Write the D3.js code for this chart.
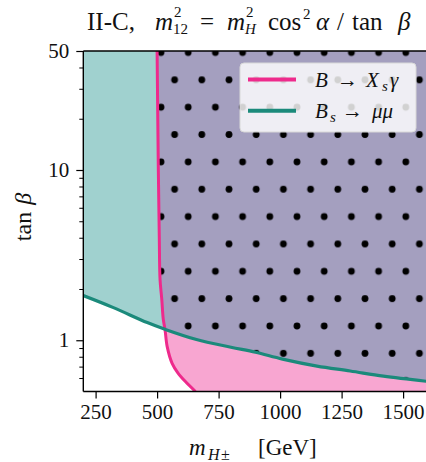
<!DOCTYPE html>
<html>
<head>
<meta charset="utf-8">
<script src="https://cdn.jsdelivr.net/npm/d3@7"></script>
<style>
  html, body { margin: 0; padding: 0; background: #fff; }
  svg { display: block; }
  text { font-family: "Liberation Serif", "DejaVu Serif", serif; fill: #111; }
  .it { font-style: italic; }
</style>
</head>
<body>
<svg id="chart" width="426" height="462"></svg>
<script>
// B -> X_s gamma exclusion boundary (m_H± in GeV, tan beta)
const bsgMass = [500, 505, 509, 512, 519, 525, 532, 541, 561, 585, 617, 656];
const bsgTanb = [50, 10, 3.9, 2.27, 1.74, 1.33, 1.16, 0.917, 0.732, 0.642, 0.568, 0.5];

// B_s -> mu mu exclusion boundary
const bsmumuMass = [200, 320, 460, 532, 660, 800, 900, 1010, 1150, 1285, 1420, 1600];
const bsmumuTanb = [1.83, 1.56, 1.27, 1.16, 1.01, 0.91, 0.85, 0.775, 0.705, 0.66, 0.615, 0.573];

// axis ranges and ticks
const massRange = [200, 1600];
const tanbRange = [0.5, 50];
const xTicks = [250, 500, 750, 1000, 1250, 1500];
const yMajorTicks = [1, 10, 50];
const yMinorTicks = [0.6, 0.7, 0.8, 0.9, 2, 3, 4, 5, 6, 7, 8, 9, 20, 30, 40];

const svg = d3.select("#chart");
const plot = { left: 83.3, top: 51, right: 427.7, bottom: 391.5 };

const x = d3.scaleLinear().domain(massRange).range([plot.left, plot.right]);
const y = d3.scaleLog().domain(tanbRange).range([plot.bottom, plot.top]);

const colors = {
  teal: "#a0d1cf",
  pink: "#f8a6d1",
  both: "#a49fbf",
  pinkLine: "#ee2a8c",
  tealLine: "#1b8a7b"
};

const defs = svg.append("defs");
defs.append("clipPath").attr("id", "plotClip")
  .append("rect")
  .attr("x", plot.left).attr("y", plot.top)
  .attr("width", plot.right - plot.left).attr("height", plot.bottom - plot.top);

// dot hatch for the jointly excluded region
const sx = 27.2, sy = 27.35;
const pat = defs.append("pattern").attr("id", "dots")
  .attr("patternUnits", "userSpaceOnUse")
  .attr("x", 161).attr("y", 52.5)
  .attr("width", sx).attr("height", 2 * sy);
[[0, 0], [sx, 0], [0, 2 * sy], [sx, 2 * sy], [sx / 2, sy]].forEach(([cx, cy]) => {
  pat.append("circle").attr("cx", cx).attr("cy", cy).attr("r", 3.4).attr("fill", "#000");
});

const bsgPts = bsgMass.map((m, i) => [x(m), y(bsgTanb[i])]);
const bsmumuPts = bsmumuMass.map((m, i) => [x(m), y(bsmumuTanb[i])]);
const curve = d3.line().curve(d3.curveCatmullRom.alpha(0.5));

// region above the B_s -> mu mu curve
const tealArea = curve(bsmumuPts) +
  `L${x(massRange[1])},${y(tanbRange[1])}L${x(massRange[0])},${y(tanbRange[1])}Z`;
// region to the right of the B -> X_s gamma curve
const pinkArea = curve(bsgPts) +
  `L${x(massRange[1])},${y(tanbRange[0])}L${x(massRange[1])},${y(tanbRange[1])}Z`;

defs.append("clipPath").attr("id", "tealClip").append("path").attr("d", tealArea);

const g = svg.append("g").attr("clip-path", "url(#plotClip)");
g.append("path").attr("d", tealArea).attr("fill", colors.teal);
g.append("path").attr("d", pinkArea).attr("fill", colors.pink);
const both = g.append("g").attr("clip-path", "url(#tealClip)");
both.append("path").attr("d", pinkArea).attr("fill", colors.both);
both.append("path").attr("d", pinkArea).attr("fill", "url(#dots)");

g.append("path").attr("d", curve(bsgPts)).attr("fill", "none")
  .attr("stroke", colors.pinkLine).attr("stroke-width", 3);
g.append("path").attr("d", curve(bsmumuPts)).attr("fill", "none")
  .attr("stroke", colors.tealLine).attr("stroke-width", 3.2);

// frame
svg.append("line").attr("x1", plot.left).attr("x2", 426).attr("y1", plot.top).attr("y2", plot.top)
  .attr("stroke", "#000").attr("stroke-width", 1.4);
svg.append("line").attr("x1", plot.left).attr("x2", 426).attr("y1", plot.bottom).attr("y2", plot.bottom)
  .attr("stroke", "#000").attr("stroke-width", 1.4);
svg.append("line").attr("x1", plot.left).attr("x2", plot.left).attr("y1", plot.top).attr("y2", plot.bottom)
  .attr("stroke", "#000").attr("stroke-width", 1.4);

// x axis
const xAxis = d3.axisBottom(x).tickValues(xTicks).tickSize(7).tickPadding(6).tickFormat(d3.format("d"));
const gx = svg.append("g").attr("transform", `translate(0,${plot.bottom})`).call(xAxis);
gx.select(".domain").remove();
gx.selectAll("line").attr("stroke", "#000").attr("stroke-width", 1.2);
gx.selectAll("text").attr("font-size", 21).attr("font-family", "Liberation Serif").attr("fill", "#111");

// y axis
const yAxis = d3.axisLeft(y).tickValues(yMajorTicks).tickSize(7).tickPadding(7).tickFormat(d3.format("d"));
const gy = svg.append("g").attr("transform", `translate(${plot.left},0)`).call(yAxis);
gy.select(".domain").remove();
gy.selectAll("line").attr("stroke", "#000").attr("stroke-width", 1.2);
gy.selectAll("text").attr("font-size", 21).attr("font-family", "Liberation Serif").attr("fill", "#111");
const yMinor = d3.axisLeft(y).tickValues(yMinorTicks).tickSize(4).tickFormat("");
const gym = svg.append("g").attr("transform", `translate(${plot.left},0)`).call(yMinor);
gym.select(".domain").remove();
gym.selectAll("line").attr("stroke", "#000").attr("stroke-width", 1);

// place math-like pieces of text: [string, x, dy, size, italic]
function mathText(parent, baseY, pieces) {
  const t = parent.append("text").attr("y", baseY);
  pieces.forEach(([s, px, dy, size, it]) => {
    t.append("tspan").text(s)
      .attr("x", px).attr("y", baseY + dy)
      .attr("font-size", size)
      .attr("class", it ? "it" : null);
  });
  return t;
}

// legend
const leg = svg.append("g");
leg.append("rect").attr("x", 240).attr("y", 63).attr("width", 176).attr("height", 69)
  .attr("rx", 4).attr("fill", "#fff").attr("fill-opacity", 0.82)
  .attr("stroke", "#d8d8d8").attr("stroke-width", 1);
const legendItems = [
  { color: colors.pinkLine, label: [["B", 315, 0, 21, true], ["→", 337, 0, 21, false], ["X", 366, 0, 21, true], ["s", 382, 4, 15, true], ["γ", 390, 0, 21, true]] },
  { color: colors.tealLine, label: [["B", 315, 0, 21, true], ["s", 330, 4, 15, true], ["→", 342, 0, 21, false], ["μμ", 372, 0, 21, true]] }
];
legendItems.forEach((item, i) => {
  const cy = 79.5 + i * 31.2;
  leg.append("line").attr("x1", 248).attr("x2", 296).attr("y1", cy).attr("y2", cy)
    .attr("stroke", item.color).attr("stroke-width", 4);
  mathText(leg, cy + 7, item.label);
});

// title
mathText(svg, 30, [
  ["II-C,", 87, 0, 25, false],
  ["m", 155, 0, 25, true],
  ["2", 174, -13.5, 15, false],
  ["12", 173, 4, 15, false],
  ["=", 200, 0, 25, false],
  ["m", 227, 0, 25, true],
  ["2", 246, -13.5, 15, false],
  ["H", 245, 4, 15, true],
  ["cos", 268, 0, 25, false],
  ["2", 303, -11, 15, false],
  ["α", 316, 0, 25, true],
  ["/", 337, 0, 25, false],
  ["tan", 352, 0, 25, false],
  ["β", 398, 0, 25, true]
]);

// axis labels
mathText(svg, 455, [
  ["m", 189, 0, 23, true],
  ["H", 208, 5, 16, true],
  ["±", 221, 5, 16, false],
  ["[GeV]", 258, 0, 23, false]
]);

const yl = svg.append("text").attr("transform", "translate(31,217) rotate(-90)")
  .attr("text-anchor", "middle").attr("font-size", 24);
yl.append("tspan").text("tan");
yl.append("tspan").attr("class", "it").attr("dx", 7).text("β");
</script>
</body>
</html>
